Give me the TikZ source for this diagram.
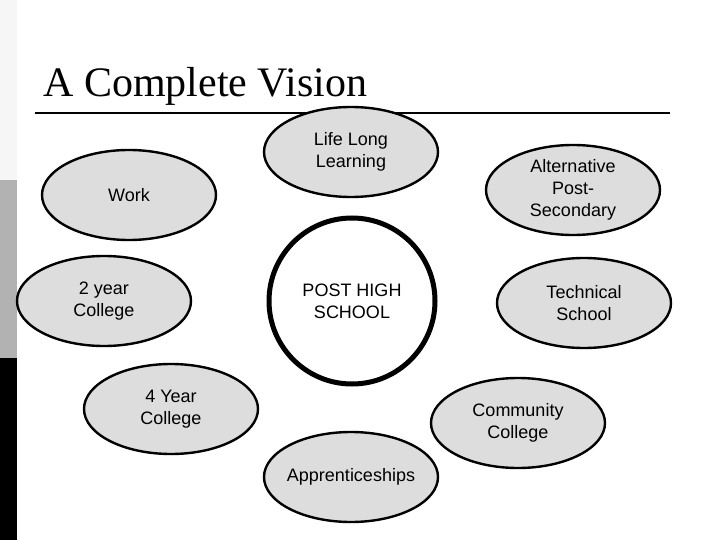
\documentclass[tikz,border=0pt]{standalone}
\usepackage{fontspec}
\setmainfont{Liberation Sans}
\newfontfamily\titleserif{Liberation Serif}
\usetikzlibrary{shapes.geometric}
\definecolor{bubble}{HTML}{DDDDDD}
\definecolor{barlight}{HTML}{F6F6F6}
\definecolor{barmid}{HTML}{B2B2B2}
\tikzset{option/.style={ellipse,draw=black,line width=2.4pt,fill=bubble,
  minimum width=174pt,minimum height=90pt,inner ysep=0pt,inner xsep=-12pt,
  align=center,font=\fontsize{18}{22}\selectfont},
hub/.style={circle,draw=black,line width=5pt,fill=white,minimum size=166pt,
  inner sep=0pt,align=center,font=\fontsize{18}{22}\selectfont},
rule/.style={line width=1.8pt,black}}

\begin{document}
\begin{tikzpicture}[x=1pt,y=-1pt]
\useasboundingbox[fill=white] (0,0) rectangle (720,540);
% slide edge bars
\fill[barlight] (0,0) rectangle (17,180);
\fill[barmid] (0,180) rectangle (17,358);
\fill[black] (0,358) rectangle (17,540);
% title
\node[anchor=base west,inner sep=0pt,font=\titleserif\fontsize{42}{48}\selectfont] (title) at (43,97) {A Complete Vision};
\coordinate (ruleL) at (35,113);
\coordinate (ruleR) at (670,113);
\draw[rule] (ruleL) -- (ruleR);
% centre and the options round it
\node[hub] (school) at (352,301) {POST HIGH\\SCHOOL};
\foreach \nm/\px/\py/\txt in {life/351/152/{Life Long\\Learning},
  alt/573/190/{Alternative\\Post-\\Secondary},
  work/129/195/{Work},
  twoyr/104/301/{2 year\\College},
  tech/584/303/{Technical\\School},
  fouryr/171/409/{4 Year\\College},
  comm/518/423/{Community\\College},
  appr/351/477/{Apprenticeships}}{
  \node[option] (\nm) at (\px,\py) {\txt};
}
\end{tikzpicture}
\end{document}
